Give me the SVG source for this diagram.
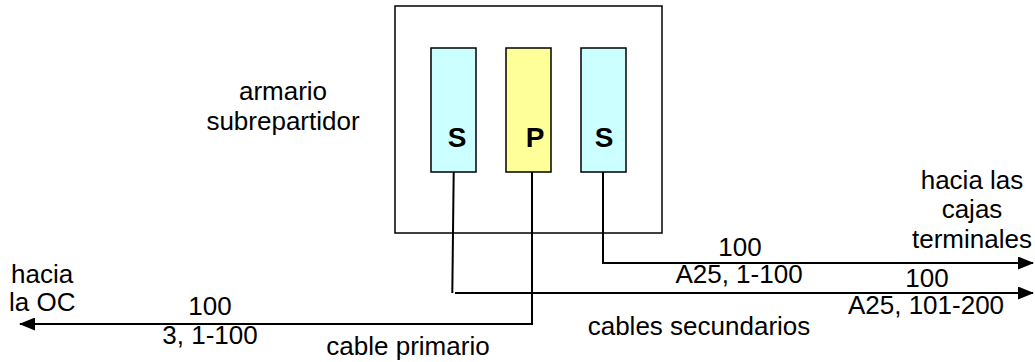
<svg xmlns="http://www.w3.org/2000/svg" width="1035" height="362" viewBox="0 0 1035 362">
<defs>
<style>
text{font-family:"Liberation Sans",Arial,sans-serif;font-size:26px;fill:#000}
.lbl{font-weight:bold;font-size:28px;text-anchor:middle}
.c{text-anchor:middle}
.box{stroke:#000;stroke-width:1.5}
.wire{fill:none;stroke:#000;stroke-width:2}
</style>
<marker id="ah" markerWidth="16" markerHeight="13" refX="15" refY="6.5" orient="auto" markerUnits="userSpaceOnUse">
<path d="M0,0 L16,6.5 L0,13 Z" fill="#000"/>
</marker>
</defs>
<rect width="1035" height="362" fill="#fff"/>
<g id="armario">
<rect class="box" x="395" y="6" width="267" height="227" fill="none"/>
<text class="c" x="283" y="100">armario</text>
<text class="c" x="283" y="130">subrepartidor</text>
</g>
<g id="s1">
<rect class="box" x="431" y="48" width="45" height="124" fill="#ccffff"/>
<text class="lbl" x="457" y="147">S</text>
</g>
<g id="p">
<rect class="box" x="506" y="48" width="45" height="124" fill="#ffff99"/>
<text class="lbl" x="535" y="147">P</text>
</g>
<g id="s2">
<rect class="box" x="581" y="48" width="45" height="124" fill="#ccffff"/>
<text class="lbl" x="604" y="147">S</text>
</g>
<g id="connectors">
<path class="wire" d="M603,172 V263 H1033" marker-end="url(#ah)"/>
<path class="wire" d="M453.7,172 L452.3,293"/>
<path class="wire" d="M455,293 H1033" marker-end="url(#ah)"/>
<path class="wire" d="M532,172 V324 H20" marker-end="url(#ah)"/>
</g>
<g id="labels">
<text x="11" y="283">hacia</text>
<text x="9" y="311">la OC</text>
<text class="c" x="210" y="315">100</text>
<text class="c" x="210" y="344">3, 1-100</text>
<text class="c" x="408" y="355">cable primario</text>
<text class="c" x="740" y="256">100</text>
<text class="c" x="739" y="283">A25, 1-100</text>
<text class="c" x="927" y="287">100</text>
<text class="c" x="926" y="314">A25, 101-200</text>
<text class="c" x="699" y="335">cables secundarios</text>
<text class="c" x="972" y="189">hacia las</text>
<text class="c" x="972" y="218">cajas</text>
<text class="c" x="972" y="248">terminales</text>
</g>
</svg>
